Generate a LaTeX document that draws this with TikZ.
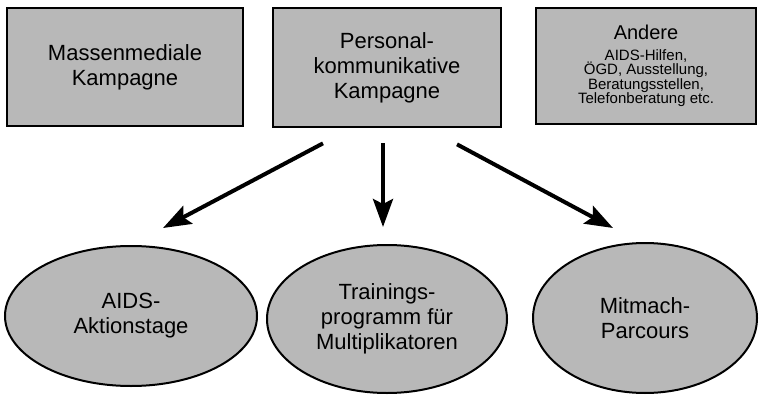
\documentclass[tikz,border=0pt]{standalone}
\usepackage{fontspec}
\setmainfont{Liberation Sans}
\usetikzlibrary{shapes.geometric}
\usetikzlibrary{arrows.meta}
\tikzset{
every picture/.style={>={Stealth[length=28pt,width=20pt,inset=5pt]}},
%%%%%%%%%%  Node styles
kampagne/.style={draw, line width=2.7pt, fill=black!28, align=center,
                 inner sep=2pt, font=\fontsize{22}{25}\selectfont},
massnahme/.style={ellipse, draw, line width=2pt, fill=black!28,
                  align=center, inner sep=0pt,
                  font=\fontsize{22}{25}\selectfont},
%%%%%%% arrows
pfeil/.style={->, line width=4pt}
}
\newcommand{\klein}{\fontsize{15}{14.5}\selectfont}

\begin{document}
\begin{tikzpicture}[x=1pt,y=-1pt]
\useasboundingbox (0,0) rectangle (759,395);
\node[kampagne, minimum width=236pt, minimum height=118pt] (mm) at (125,67)
{Massenmediale\\Kampagne};
\node[kampagne, minimum width=228pt, minimum height=119pt] (pk) at (387,67.5)
{Personal-\\kommunikative\\Kampagne};
\node[kampagne, font=\klein, minimum width=220pt, minimum height=116pt] (andere) at (646,66)
{{\fontsize{20}{20}\selectfont Andere}\\[6pt]
AIDS-Hilfen,\\ÖGD, Ausstellung,\\Beratungsstellen,\\Telefonberatung etc.};
\node[massnahme, minimum width=252pt, minimum height=140pt] (aktion) at (131,316)
{AIDS-\\Aktionstage};
\node[massnahme, minimum width=240pt, minimum height=148pt] (training) at (387,319)
{Trainings-\\programm für\\Multiplikatoren};
\node[massnahme, minimum width=224pt, minimum height=150pt] (parcours) at (645,318)
{Mitmach-\\Parcours};
\draw[pfeil] ([xshift=-64pt,yshift=-15pt]pk.south) -- ([xshift=32pt,yshift=17pt]aktion.north);
\draw[pfeil] ([xshift=-4pt,yshift=-15pt]pk.south) -- ([xshift=-4pt,yshift=17pt]training.north);
\draw[pfeil] ([xshift=70pt,yshift=-16pt]pk.south) -- ([xshift=-32pt,yshift=14pt]parcours.north);
\end{tikzpicture}
\end{document}
